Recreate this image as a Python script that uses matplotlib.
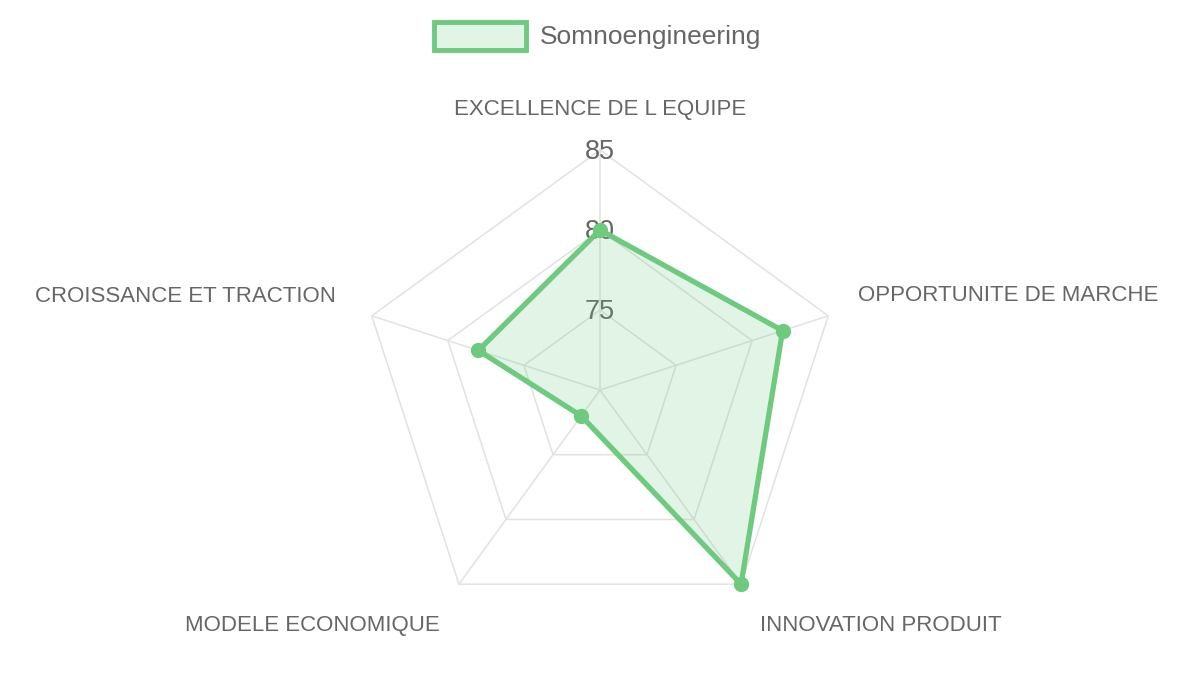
import numpy as np
import matplotlib
matplotlib.use("Agg")
import matplotlib.pyplot as plt
from matplotlib.patches import Rectangle

categories = ["EXCELLENCE DE L EQUIPE", "OPPORTUNITE DE MARCHE", "INNOVATION PRODUIT",
              "MODELE ECONOMIQUE", "CROISSANCE ET TRACTION"]
values = [80, 82, 85, 72, 78]
series_name = "Somnoengineering"
ticks = [75, 80, 85]
r_min, r_max = 70, 85

line_color = "#6dca7f"
fill_color = (0.43, 0.79, 0.50, 0.2)
grid_color = "#e2e2e2"
text_color = "#666666"

plt.rcParams['font.family'] = ['Liberation Sans', 'DejaVu Sans']

fig = plt.figure(figsize=(12, 6.75), dpi=100)
ax = fig.add_axes([0.3, 285 / 675 - 240 / 675, 0.4, 480 / 675], projection="polar")
ax.set_theta_offset(np.pi / 2)
ax.set_theta_direction(-1)
ax.set_ylim(r_min, r_max)
ax.grid(False)
ax.spines["polar"].set_visible(False)
ax.set_xticks([])
ax.set_yticks([])
ax.patch.set_alpha(0)

n = len(categories)
angles = np.linspace(0, 2 * np.pi, n, endpoint=False)
closed = np.append(angles, angles[0])

# pentagon grid
for t in ticks:
    ax.plot(closed, [t] * (n + 1), color=grid_color, lw=1.1, zorder=1, clip_on=False)
for a in angles:
    ax.plot([a, a], [r_min, r_max], color=grid_color, lw=1.1, zorder=1, clip_on=False)

# tick labels
for t in ticks:
    ax.annotate(str(t), xy=(0, t), xytext=(0, -2), textcoords="offset pixels",
                ha="center", va="center", fontsize=19.5, color=text_color, zorder=2,
                annotation_clip=False)

# data
vals = values + values[:1]
ax.fill(closed, vals, color=fill_color, zorder=3, clip_on=False)
ax.plot(closed, vals, color=line_color, lw=3.8, zorder=4, clip_on=False,
        solid_joinstyle="miter")
ax.plot(angles, values, "o", color=line_color, ms=10, zorder=5, clip_on=False)

# category labels
offsets = [(0, 41, "center"), (30, 20, "left"), (19, -41, "left"), (-19, -41, "right"), (-36, 19, "right")]
for a, lab, (dx, dy, ha) in zip(angles, categories, offsets):
    ax.annotate(lab, xy=(a, r_max), xytext=(dx, dy), textcoords="offset pixels",
                ha=ha, va="center", fontsize=16, color=text_color, annotation_clip=False)

# legend
fig.patches.append(Rectangle((434 / 1200, 1 - 50 / 675), 92 / 1200, 28 / 675,
                             transform=fig.transFigure, facecolor=fill_color,
                             edgecolor=line_color, lw=3.5))
fig.text(540 / 1200, 1 - 37 / 675, series_name, ha="left", va="center",
         fontsize=19, color=text_color)

fig.savefig("out.png", dpi=100)
